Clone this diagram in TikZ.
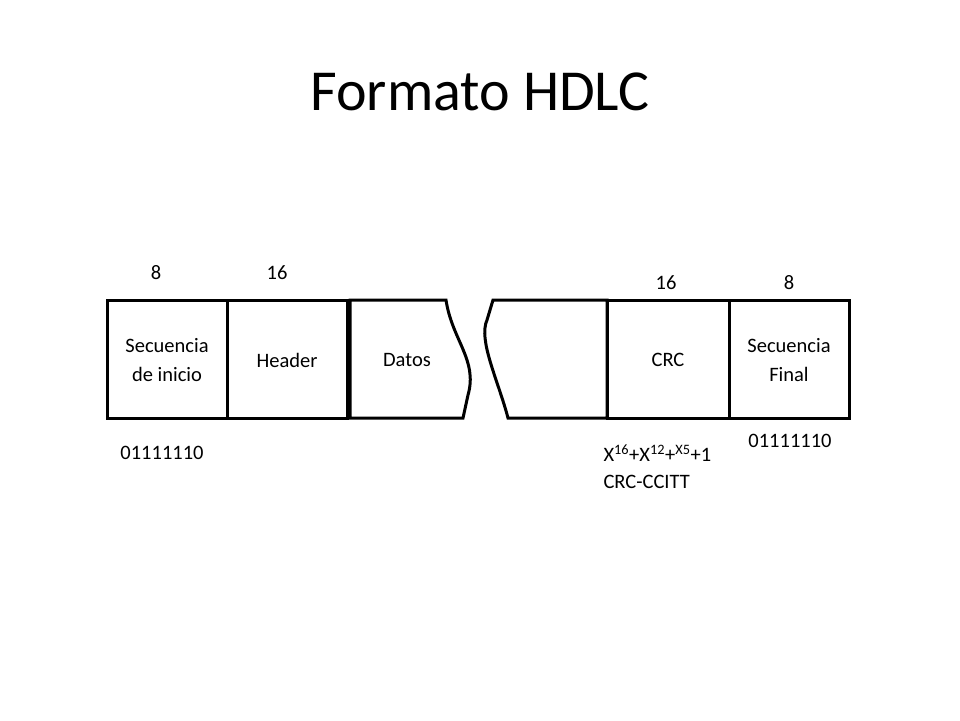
\documentclass[tikz,border=0pt]{standalone}
\usepackage{fontspec}
\setmainfont{Carlito}
\begin{document}
\begin{tikzpicture}[x=1pt,y=-1pt,
  lbl/.style={font=\fontsize{20.5}{29}\selectfont, align=center},
  edge/.style={line width=3pt}]
\useasboundingbox (0,0) rectangle (960,720);
\node (title) at (480,92) {\fontsize{58}{66}\selectfont Formato HDLC};
\draw[edge] (107,300) rectangle (227,418);
\draw[edge] (227,300) rectangle (347,418);
\draw[edge] (350,418) -- (350,300) -- (446,300) .. controls (452,340) and (478,360) .. (468,395) -- (463,418) -- cycle;
\draw[edge] (508,418) .. controls (498,380) and (478,340) .. (487,320) -- (493,300) -- (607,300) -- (607,418) -- cycle;
\draw[edge] (607,300) rectangle (729,418);
\draw[edge] (729,300) rectangle (849,418);
\node[lbl] (s1) at (167,360) {Secuencia\\de inicio};
\node[lbl] (h) at (287,360) {Header};
\node[lbl] (d) at (407,360) {Datos};
\node[lbl] (c) at (668,360) {CRC};
\node[lbl] (s2) at (789,360) {Secuencia\\Final};
\node[lbl] (n1) at (156,273) {8};
\node[lbl] (n2) at (277,273) {16};
\node[lbl] (n3) at (666,283) {16};
\node[lbl] (n4) at (789,283) {8};
\node[lbl] (b1) at (162,453) {01111110};
\node[lbl] (b2) at (790,441) {01111110};
\node[lbl, anchor=west] (poly) at (600,453) {X\textsuperscript{16}+X\textsuperscript{12}+\textsuperscript{X5}+1};
\node[lbl, anchor=west] (cc) at (600,482) {CRC-CCITT};
\end{tikzpicture}
\end{document}
